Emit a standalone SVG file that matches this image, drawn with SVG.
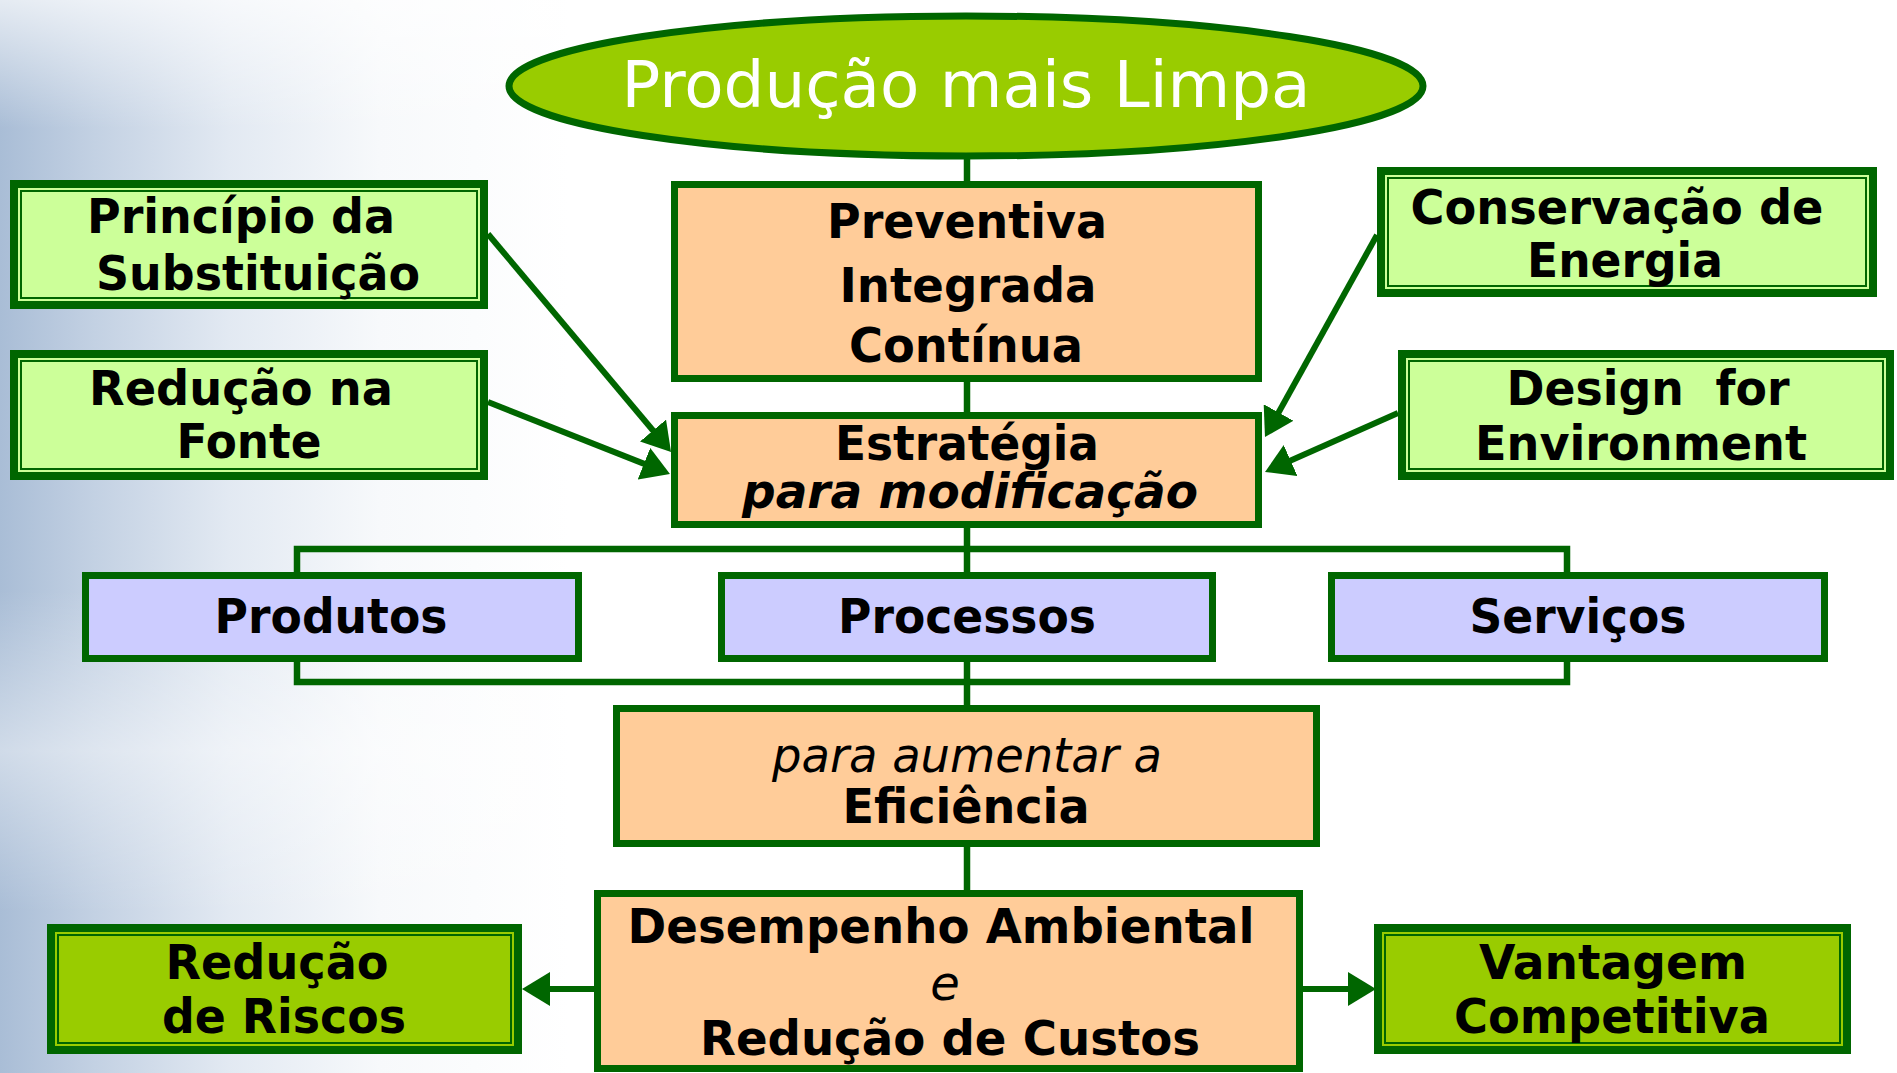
<svg xmlns="http://www.w3.org/2000/svg" width="1897" height="1073" viewBox="0 0 1897 1073">
<defs>
  <linearGradient id="bg" x1="0" y1="0" x2="1" y2="0">
    <stop offset="0" stop-color="#a9bdd6"/>
    <stop offset="0.05" stop-color="#c3d1e3"/>
    <stop offset="0.12" stop-color="#e2e9f2"/>
    <stop offset="0.2" stop-color="#f7f9fb"/>
    <stop offset="0.3" stop-color="#ffffff"/>
  </linearGradient>
  <linearGradient id="bgTop" x1="0" y1="0" x2="0" y2="1">
    <stop offset="0" stop-color="#ffffff" stop-opacity="0.7"/>
    <stop offset="0.12" stop-color="#ffffff" stop-opacity="0"/>
    <stop offset="0.55" stop-color="#ffffff" stop-opacity="0"/>
    <stop offset="0.7" stop-color="#ffffff" stop-opacity="0.45"/>
    <stop offset="0.85" stop-color="#ffffff" stop-opacity="0"/>
  </linearGradient>
  <marker id="arr" viewBox="0 0 28 34" refX="16" refY="17" markerWidth="28" markerHeight="34" markerUnits="userSpaceOnUse" orient="auto">
    <path d="M0,0 L28,17 L0,34 z" fill="#006600"/>
  </marker>
  <style>
    .box { stroke: #006600; stroke-width: 7; }
    .orange { fill: #FFCC99; }
    .blue { fill: #CCCCFF; }
    .lgreen { fill: #CCFF99; }
    .lime { fill: #99CC00; }
    .outer { stroke: #006600; stroke-width: 8; }
    .inner { fill: none; stroke: #006600; stroke-width: 2; }
    .conn { fill: none; stroke: #006600; stroke-width: 6.5; }
    .arrow { fill: none; stroke: #006600; stroke-width: 6; marker-end: url(#arr); }
    text { font-family: "DejaVu Sans", "Liberation Sans", sans-serif; text-anchor: middle; fill: #000000; }
    .t { font-size: 48px; font-weight: bold; }
    .bi { font-size: 48px; font-weight: bold; font-style: italic; }
    .it { font-size: 48px; font-weight: normal; font-style: italic; }
    .title { font-size: 64px; font-weight: normal; fill: #ffffff; }
  </style>
</defs>

<rect x="0" y="0" width="1897" height="1073" fill="url(#bg)"/>
<rect x="0" y="0" width="1897" height="1073" fill="url(#bgTop)"/>

<g id="connectors">
  <path class="conn" d="M967,157 V184"/>
  <path class="conn" d="M967,379 V416"/>
  <path class="conn" d="M967,525 V576"/>
  <path class="conn" d="M297,576 V549 H1567 V576"/>
  <path class="conn" d="M297,659 V682 H1567 V659"/>
  <path class="conn" d="M967,659 V709"/>
  <path class="conn" d="M967,844 V894"/>
  <line class="arrow" x1="488" y1="234" x2="663.3" y2="442.8"/>
  <line class="arrow" x1="488" y1="402" x2="658.8" y2="469.6"/>
  <line class="arrow" x1="1377" y1="235" x2="1270.8" y2="426.5"/>
  <line class="arrow" x1="1398" y1="413" x2="1276" y2="467.1"/>
  <line class="arrow" x1="594" y1="989" x2="534" y2="989"/>
  <line class="arrow" x1="1303" y1="989" x2="1364" y2="989"/>
</g>

<g id="node-title">
  <ellipse cx="966" cy="86" rx="457" ry="70" fill="#99CC00" stroke="#006600" stroke-width="7"/>
  <text class="title" x="966" y="107" textLength="689" lengthAdjust="spacingAndGlyphs">Produção mais Limpa</text>
</g>

<g id="node-principio">
  <rect class="outer lgreen" x="14" y="184" width="470" height="121"/>
  <rect class="inner" x="21" y="191" width="456" height="107"/>
  <text class="t" x="241" y="233" textLength="308" lengthAdjust="spacingAndGlyphs">Princípio da</text>
  <text class="t" x="258" y="290" textLength="324" lengthAdjust="spacingAndGlyphs">Substituição</text>
</g>

<g id="node-reducao-fonte">
  <rect class="outer lgreen" x="14" y="354" width="470" height="122"/>
  <rect class="inner" x="21" y="361" width="456" height="108"/>
  <text class="t" x="241" y="405" textLength="304" lengthAdjust="spacingAndGlyphs">Redução na</text>
  <text class="t" x="249" y="458" textLength="145" lengthAdjust="spacingAndGlyphs">Fonte</text>
</g>

<g id="node-conservacao">
  <rect class="outer lgreen" x="1381" y="171" width="492" height="122"/>
  <rect class="inner" x="1388" y="178" width="478" height="108"/>
  <text class="t" x="1617" y="224" textLength="413" lengthAdjust="spacingAndGlyphs">Conservação de</text>
  <text class="t" x="1625" y="277" textLength="196" lengthAdjust="spacingAndGlyphs">Energia</text>
</g>

<g id="node-design">
  <rect class="outer lgreen" x="1402" y="354" width="488" height="122"/>
  <rect class="inner" x="1409" y="361" width="474" height="108"/>
  <text class="t" x="1648" y="405" textLength="283" lengthAdjust="spacingAndGlyphs" style="white-space:pre">Design  for</text>
  <text class="t" x="1641" y="460" textLength="332" lengthAdjust="spacingAndGlyphs">Environment</text>
</g>

<g id="node-preventiva">
  <rect class="box orange" x="674.5" y="184.5" width="584" height="194"/>
  <text class="t" x="967" y="238" textLength="280" lengthAdjust="spacingAndGlyphs">Preventiva</text>
  <text class="t" x="968" y="302" textLength="257" lengthAdjust="spacingAndGlyphs">Integrada</text>
  <text class="t" x="966" y="362" textLength="234" lengthAdjust="spacingAndGlyphs">Contínua</text>
</g>

<g id="node-estrategia">
  <rect class="box orange" x="674.5" y="415.5" width="584" height="109"/>
  <text class="t" x="967" y="460" textLength="264" lengthAdjust="spacingAndGlyphs">Estratégia</text>
  <text class="bi" x="970" y="508" textLength="456" lengthAdjust="spacingAndGlyphs">para modificação</text>
</g>

<g id="node-produtos">
  <rect class="box blue" x="85.5" y="575.5" width="493" height="83"/>
  <text class="t" x="331" y="633" textLength="233" lengthAdjust="spacingAndGlyphs">Produtos</text>
</g>

<g id="node-processos">
  <rect class="box blue" x="721.5" y="575.5" width="491" height="83"/>
  <text class="t" x="967" y="633" textLength="258" lengthAdjust="spacingAndGlyphs">Processos</text>
</g>

<g id="node-servicos">
  <rect class="box blue" x="1331.5" y="575.5" width="493" height="83"/>
  <text class="t" x="1578" y="633" textLength="217" lengthAdjust="spacingAndGlyphs">Serviços</text>
</g>

<g id="node-eficiencia">
  <rect class="box orange" x="616.5" y="708.5" width="700" height="135"/>
  <text class="it" x="967" y="772" textLength="390" lengthAdjust="spacingAndGlyphs">para aumentar a</text>
  <text class="t" x="966" y="823" textLength="247" lengthAdjust="spacingAndGlyphs">Eficiência</text>
</g>

<g id="node-desempenho">
  <rect class="box orange" x="597.5" y="893.5" width="702" height="175"/>
  <text class="t" x="941" y="943" textLength="627" lengthAdjust="spacingAndGlyphs">Desempenho Ambiental</text>
  <text class="it" x="945" y="1000">e</text>
  <text class="t" x="950" y="1055" textLength="500" lengthAdjust="spacingAndGlyphs">Redução de Custos</text>
</g>

<g id="node-riscos">
  <rect class="outer lime" x="51" y="928" width="467" height="122"/>
  <rect class="inner" x="58" y="935" width="453" height="108"/>
  <text class="t" x="277" y="979" textLength="223" lengthAdjust="spacingAndGlyphs">Redução</text>
  <text class="t" x="284" y="1033" textLength="244" lengthAdjust="spacingAndGlyphs">de Riscos</text>
</g>

<g id="node-vantagem">
  <rect class="outer lime" x="1378" y="928" width="469" height="122"/>
  <rect class="inner" x="1385" y="935" width="455" height="108"/>
  <text class="t" x="1613" y="979" textLength="268" lengthAdjust="spacingAndGlyphs">Vantagem</text>
  <text class="t" x="1612" y="1033" textLength="316" lengthAdjust="spacingAndGlyphs">Competitiva</text>
</g>
</svg>
